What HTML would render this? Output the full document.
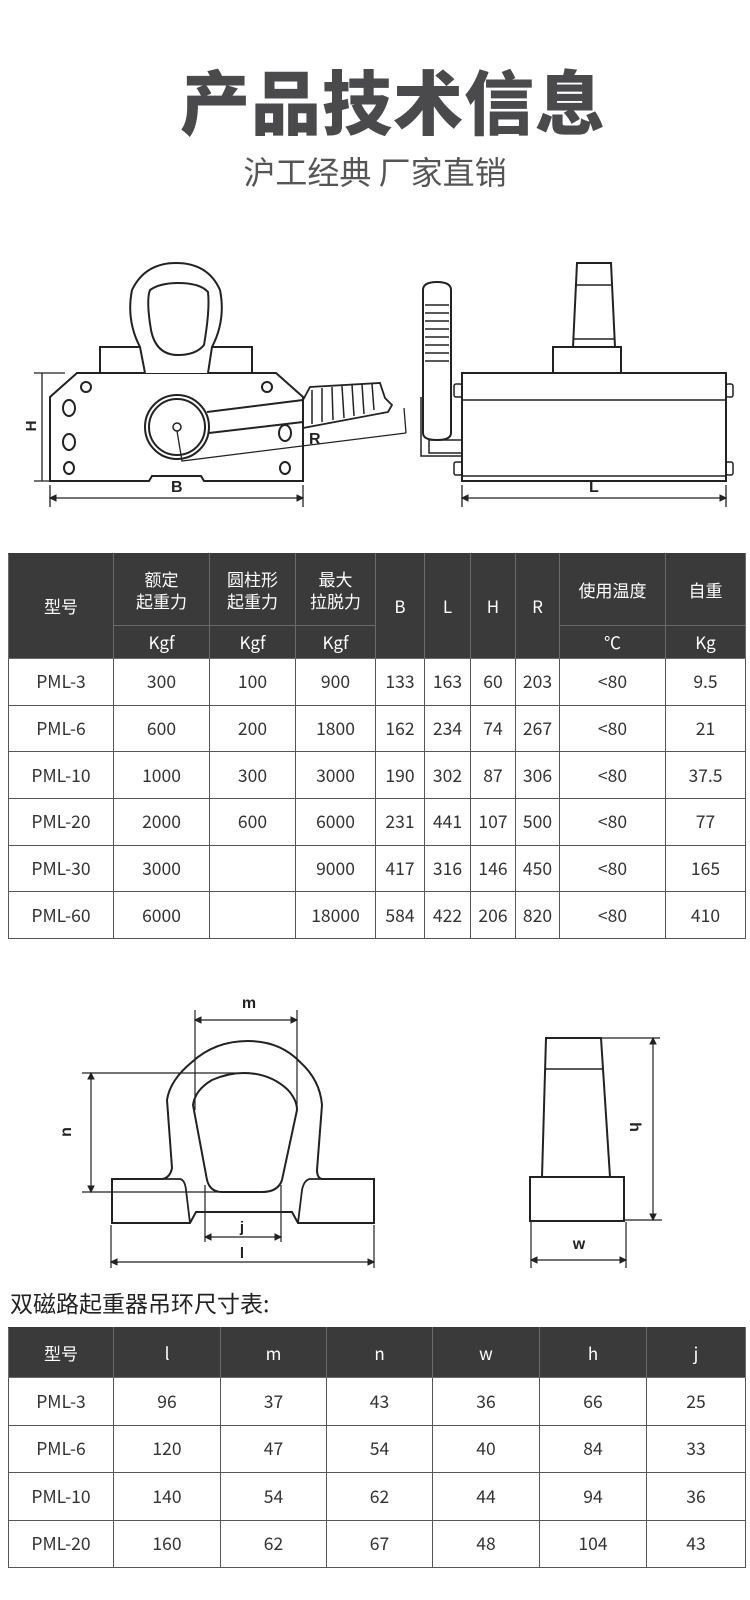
<!DOCTYPE html>
<html><head><meta charset="utf-8"><style>
body{margin:0;width:750px;height:1600px;background:#fff;position:relative;overflow:hidden;font-family:"Noto Sans CJK SC","Liberation Sans",sans-serif;color:#333}
.t1{position:absolute;left:18px;top:61px;width:750px;text-align:center;font-size:70px;font-weight:900;color:#4a4a4c;letter-spacing:1px;font-family:"Noto Sans CJK SC",sans-serif;line-height:78px}
.t2{position:absolute;left:0;top:151px;width:750px;text-align:center;font-size:32px;color:#555;font-family:"Noto Sans CJK SC",sans-serif;line-height:40px}
table{position:absolute;left:8px;border-collapse:collapse;table-layout:fixed;font-family:"Noto Sans CJK SC","Liberation Sans",sans-serif}
td{border:1.5px solid #555;text-align:center;padding:0;font-size:17.5px;color:#333}
th{background:#3a3a3a;color:#fff;font-weight:normal;font-size:17px;border:1.5px solid #6a6a6a;border-top-color:#3a3a3a;padding:0;line-height:22px;font-family:"Noto Sans CJK SC",sans-serif}
.cap{position:absolute;left:10px;top:1287px;font-size:23px;color:#222;font-family:"Noto Sans CJK SC",sans-serif;line-height:30px}
</style></head><body>
<div class="t1">产品技术信息</div>
<div class="t2">沪工经典 厂家直销</div>

<svg width="750" height="1600" style="position:absolute;left:0;top:0" fill="none" stroke="#222" stroke-width="2" font-family="Liberation Sans" font-weight="bold">
<!-- left view -->
<path d="M77 373 L276 373 L303 397 L303 481 L204 481 L201 476 L152 476 L149 481 L50 481 L50 397 Z"/>
<rect x="100" y="347" width="152" height="26"/>
<path d="M145 373 L140 347 Q126 320 132 290 Q145 263 176 263 Q208 263 220 290 Q226 320 212 347 L208 373" fill="#fff"/>
<path d="M151 330 Q146 300 150 290 Q160 283 178 283 Q200 283 208 292 Q210 310 204 345 Q196 355 178 355 Q156 355 151 330 Z"/>
<circle cx="86" cy="387" r="5"/><circle cx="267" cy="387" r="5"/>
<ellipse cx="69" cy="408" rx="6" ry="8"/><ellipse cx="69" cy="442" rx="6" ry="8"/>
<ellipse cx="69" cy="468" rx="5" ry="6"/><ellipse cx="285" cy="468" rx="5" ry="6"/><ellipse cx="285" cy="433" rx="6" ry="8"/>
<path d="M207 412 L303 400 M209 433 L303 422"/>
<path d="M303 400 L310 387 L380 383 L385 398 L392 405 L388 412 L303 428" stroke-width="1.8"/>
<path d="M312 390 L312 424 M322 388 L322 422 M332 387 L333 420 M342 386 L344 418 M352 385 L354 416 M362 384 L364 414 M372 384 L374 410" stroke-width="1.5"/>
<circle cx="177" cy="427" r="32" fill="#fff"/><circle cx="177" cy="427" r="28"/>
<circle cx="177" cy="427" r="4" stroke-width="1.5"/>
<path d="M177 431 L182 461 L406 433 M404 408 L406 433" stroke-width="1.3"/>
<text x="309" y="444" fill="#222" stroke="none" font-size="16">R</text>
<path d="M34 373 L65 373 M34 481 L60 481 M42 373 L42 481 M50 485 L50 507 M303 485 L303 507 M50 498 L303 498" stroke-width="1.3"/>
<path d="M50 498 l6 -3 v6 Z M303 498 l-6 -3 v6 Z" fill="#222" stroke-width="1"/>
<text x="171" y="492" fill="#222" stroke="none" font-size="16">B</text>
<text transform="translate(36,426) rotate(-90)" text-anchor="middle" fill="#222" stroke="none" font-size="15">H</text>
<!-- right view -->
<path d="M577 263 L611 263 L615 347 L573 347 Z" fill="#fff"/>
<path d="M576 285 L611 285 M574 339 L614 339" stroke-width="1.5"/>
<rect x="553" y="347" width="68" height="26"/>
<rect x="462" y="373" width="264" height="108"/>
<path d="M462 400 L726 400 M462 476 L726 476" stroke-width="1.5"/>
<rect x="726" y="384" width="7" height="13" rx="2" stroke-width="1.5"/><rect x="726" y="462" width="7" height="13" rx="2" stroke-width="1.5"/>
<rect x="454" y="384" width="8" height="13" rx="2" stroke-width="1.5"/><rect x="454" y="462" width="8" height="13" rx="2" stroke-width="1.5"/>
<path d="M423 433 L423 290 Q423 282 437 282 Q451 282 451 290 L451 433 Q451 440 437 440 Q423 440 423 433 Z" fill="#fff"/>
<path d="M425 305 H449 M425 313 H449 M425 321 H449 M425 329 H449 M425 337 H449 M425 345 H449 M425 353 H449 M425 361 H449" stroke-width="1.5"/>
<path d="M421 397 L421 456 L462 456 M429 440 L462 440 L462 453 L429 453 Z" stroke-width="1.5"/>
<path d="M462 485 L462 507 M726 485 L726 507 M462 498 L726 498" stroke-width="1.3"/>
<path d="M462 498 l6 -3 v6 Z M726 498 l-6 -3 v6 Z" fill="#222" stroke-width="1"/>
<text x="589" y="492" fill="#222" stroke="none" font-size="16">L</text>

<!-- lower shackle -->
<path d="M112 1179 L112 1223 L190 1223 L196 1212 L292 1212 L298 1223 L374 1223 L374 1179 L322 1179 Q317 1178 317 1170 L322 1105 Q320 1080 300 1062 Q280 1041 248 1041 Q215 1041 192 1062 Q170 1080 167 1100 L172 1168 Q170 1178 162 1179 Z"/>
<path d="M112 1179 L180 1179 Q185 1180 186 1190 L190 1223 M298 1223 L302 1190 Q304 1180 310 1179 L374 1179" stroke-width="1.8"/>
<path d="M207 1180 L193 1105 Q195 1090 212 1080 Q228 1073 244 1073 Q270 1073 288 1090 Q297 1100 297 1110 L282 1180 Q278 1192 262 1192 L222 1192 Q210 1192 207 1180 Z"/>
<path d="M195 1010 L195 1110 M297 1010 L297 1110 M195 1020 L297 1020 M82 1073 L250 1073 M82 1192 L262 1192 M91 1073 L91 1192 M205 1185 L205 1242 M281 1185 L281 1242 M205 1237 L281 1237 M111 1225 L111 1268 M374 1225 L374 1268 M111 1262 L374 1262" stroke-width="1.2"/>
<path d="M195 1020 l6 -3 v6Z M297 1020 l-6 -3 v6Z M91 1073 l-3 6 h6Z M91 1192 l-3 -6 h6Z M205 1237 l6 -3 v6Z M281 1237 l-6 -3 v6Z M111 1262 l6 -3 v6Z M374 1262 l-6 -3 v6Z" fill="#222" stroke-width="1"/>
<text x="249" y="1008" text-anchor="middle" fill="#222" stroke="none" font-size="16">m</text>
<text transform="translate(71,1132) rotate(-90)" text-anchor="middle" fill="#222" stroke="none" font-size="16">n</text>
<text x="242" y="1232" text-anchor="middle" fill="#222" stroke="none" font-size="15">j</text>
<text x="242" y="1258" text-anchor="middle" fill="#222" stroke="none" font-size="15">l</text>
<!-- side block -->
<path d="M546 1038 L601 1038 L610 1177 L542 1177 Z"/>
<path d="M545 1069 L602 1069" stroke-width="1.5"/>
<rect x="530" y="1177" width="94" height="44"/>
<path d="M601 1038 L660 1038 M624 1220 L662 1220 M653 1038 L653 1220 M531 1222 L531 1268 M626 1222 L626 1268 M531 1260 L626 1260" stroke-width="1.2"/>
<path d="M653 1038 l-3 6 h6Z M653 1220 l-3 -6 h6Z M531 1260 l6 -3 v6Z M626 1260 l-6 -3 v6Z" fill="#222" stroke-width="1"/>
<text transform="translate(630,1127) rotate(90)" text-anchor="middle" fill="#222" stroke="none" font-size="16">h</text>
<text x="579" y="1249" text-anchor="middle" fill="#222" stroke="none" font-size="16">w</text>
</svg>

<table style="top:553px;width:737px">
<colgroup><col style="width:105px"><col style="width:96px"><col style="width:86px"><col style="width:80px"><col style="width:49px"><col style="width:46px"><col style="width:45px"><col style="width:44px"><col style="width:106px"><col style="width:80px"></colgroup>
<tr style="height:72px"><th rowspan="2">型号</th><th>额定<br>起重力</th><th>圆柱形<br>起重力</th><th>最大<br>拉脱力</th><th rowspan="2">B</th><th rowspan="2">L</th><th rowspan="2">H</th><th rowspan="2">R</th><th>使用温度</th><th>自重</th></tr>
<tr style="height:33px"><th>Kgf</th><th>Kgf</th><th>Kgf</th><th>℃</th><th>Kg</th></tr>
<tr style="height:46.7px"><td>PML-3</td><td>300</td><td>100</td><td>900</td><td>133</td><td>163</td><td>60</td><td>203</td><td>&lt;80</td><td>9.5</td></tr>
<tr style="height:46.7px"><td>PML-6</td><td>600</td><td>200</td><td>1800</td><td>162</td><td>234</td><td>74</td><td>267</td><td>&lt;80</td><td>21</td></tr>
<tr style="height:46.7px"><td>PML-10</td><td>1000</td><td>300</td><td>3000</td><td>190</td><td>302</td><td>87</td><td>306</td><td>&lt;80</td><td>37.5</td></tr>
<tr style="height:46.7px"><td>PML-20</td><td>2000</td><td>600</td><td>6000</td><td>231</td><td>441</td><td>107</td><td>500</td><td>&lt;80</td><td>77</td></tr>
<tr style="height:46.7px"><td>PML-30</td><td>3000</td><td></td><td>9000</td><td>417</td><td>316</td><td>146</td><td>450</td><td>&lt;80</td><td>165</td></tr>
<tr style="height:46.7px"><td>PML-60</td><td>6000</td><td></td><td>18000</td><td>584</td><td>422</td><td>206</td><td>820</td><td>&lt;80</td><td>410</td></tr>
</table>

<div class="cap">双磁路起重器吊环尺寸表:</div>
<table style="top:1327px;width:737px">
<colgroup><col style="width:105px"><col style="width:107px"><col style="width:106px"><col style="width:106px"><col style="width:107px"><col style="width:107px"><col style="width:99px"></colgroup>
<tr style="height:50px"><th>型号</th><th>l</th><th>m</th><th>n</th><th>w</th><th>h</th><th>j</th></tr>
<tr style="height:47.5px"><td>PML-3</td><td>96</td><td>37</td><td>43</td><td>36</td><td>66</td><td>25</td></tr>
<tr style="height:47.5px"><td>PML-6</td><td>120</td><td>47</td><td>54</td><td>40</td><td>84</td><td>33</td></tr>
<tr style="height:47.5px"><td>PML-10</td><td>140</td><td>54</td><td>62</td><td>44</td><td>94</td><td>36</td></tr>
<tr style="height:47.5px"><td>PML-20</td><td>160</td><td>62</td><td>67</td><td>48</td><td>104</td><td>43</td></tr>
</table>
</body></html>
